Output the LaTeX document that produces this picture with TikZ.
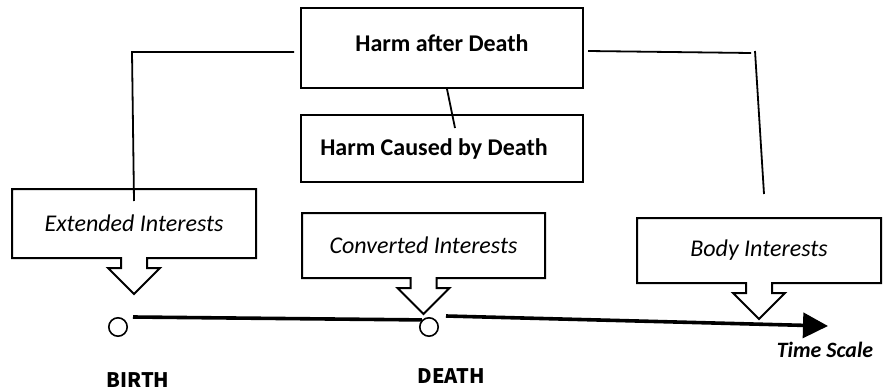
\documentclass[tikz,border=0pt,12pt]{standalone}
\usepackage{fontspec}
\setmainfont{Carlito}
\newfontfamily\gothicfont{Noto Sans CJK JP}
\usetikzlibrary{shapes.arrows,arrows.meta}

\begin{document}
\begin{tikzpicture}[x=0.5pt,y=-0.5pt,
      harm/.style={draw,line width=1pt,font=\bfseries,minimum width=141pt},
      interest/.style={arrow box,draw,line width=1pt,font=\itshape,
        minimum width=122pt,minimum height=32.5pt,
        arrow box shaft width=13pt,arrow box head extend=6.5pt,
        arrow box tip angle=90,arrow box arrows={south:17.5pt from border}},
      event/.style={circle,draw,line width=0.8pt,minimum size=9.2pt,inner sep=0pt},
      stamp/.style={font=\gothicfont\bfseries\footnotesize},
      link/.style={line width=0.9pt},
      timeline/.style={line width=1.8pt}
      ]
	      \useasboundingbox (0,0) rectangle (883,391);

	      % harm boxes
	      \node[harm,minimum height=40pt,text depth=4.5pt] (harmafter) at (442,48) {Harm after Death};
	      \node[harm,minimum height=33.5pt] (harmcaused) at (442,148.5) {\hspace*{-8pt}Harm Caused by Death};

	      % interests
	      \node[interest,minimum height=34.5pt] (extended) at (134,223.5) {Extended Interests};
	      \node[interest,minimum width=121.5pt] (converted) at (423.5,245.5) {Converted Interests};
	      \node[interest] (body) at (759,250.5) {Body Interests};

	      % time scale
	      \node[event] (birth) at (118,327) {};
	      \node[event] (death) at (429,327) {};
	      \coordinate (tend) at (828,326);
	      \node[stamp] (birthlbl) at (138,380) {BIRTH};
	      \node[stamp] (deathlbl) at (451,376) {DEATH};
	      \node[font=\bfseries\itshape\small] (scalelbl) at (825,350) {Time Scale};

	      \draw[timeline] ([xshift=7.5pt,yshift=5pt]birth.center) -- (death.north west);
	      \draw[timeline,-{Triangle[length=12.5pt,width=12.5pt]}] ([xshift=8.5pt,yshift=5.5pt]death.center) -- (tend);

	      % links
	      \coordinate (lcorner) at (132,52);
	      \coordinate (rcorner) at (751,53);
	      \coordinate (rtop) at (755,51);
	      \coordinate (rend) at (764,194);
	      \draw[link] ([xshift=-3pt,yshift=-2pt]harmafter.west) -- (lcorner) -- ([yshift=-6.5pt]extended.north);
	      \draw[link] ([xshift=2pt,yshift=-1.5pt]harmafter.east) -- (rcorner) (rtop) -- (rend);
	      \draw[link] ([xshift=2.5pt]harmafter.south) -- ([xshift=6.5pt,yshift=-7pt]harmcaused.north);

	\end{tikzpicture}
\end{document}
